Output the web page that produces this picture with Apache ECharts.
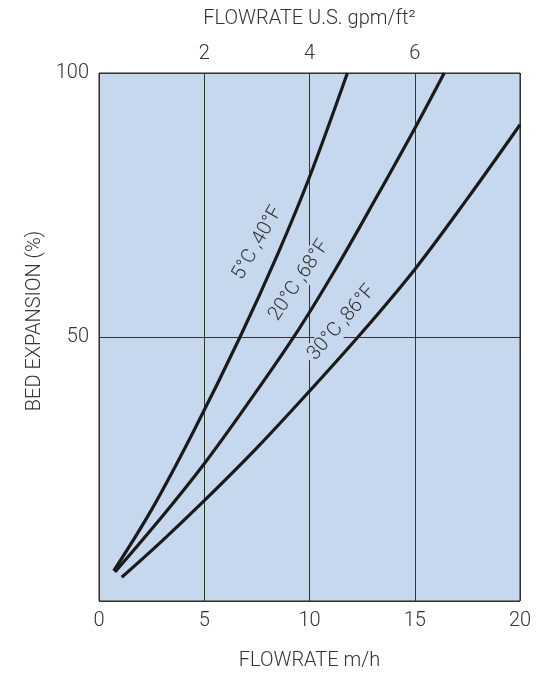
<!DOCTYPE html>
<html>
<head>
<meta charset="utf-8">
<script src="https://cdn.jsdelivr.net/npm/echarts@6/dist/echarts.min.js"></script>
<style>html,body{margin:0;padding:0;background:#fff}#c{width:550px;height:676px}</style>
</head>
<body>
<div id="c"></div>
<script>
// Data
var flowrate5 = [0.7, 2.5, 4.5, 6.7, 8.5, 10, 11.8];
var expansion5 = [5.7, 17.3, 32.2, 50, 65.8, 80.3, 100];
var flowrate20 = [0.76, 3, 5, 7, 9.3, 11.2, 13.2, 15, 16.4];
var expansion20 = [5.5, 16, 26, 37, 50.3, 62.6, 76.6, 89.5, 100];
var flowrate30 = [1.08, 3, 5, 7.5, 10, 12.5, 15, 17.5, 20];
var expansion30 = [4.5, 11.4, 19, 29, 39.75, 50.9, 62.8, 76.2, 90.2];
var curveNames = ['5°C ,40°F', '20°C ,68°F', '30°C ,86°F'];
// label anchor positions (data coords) and angles (deg)
var labelX = [7.53, 9.51, 11.53];
var labelY = [67.8, 60.7, 52.7];
var labelAngle = [60.4, 56, 49.2];

function pairs(xs, ys){ return xs.map(function(x,i){return [x, ys[i]];}); }

var FONT = 'Roboto, "Liberation Sans", sans-serif';
var TXT = '#333';
var BG = '#c5d8ee';
var FS = 20;

var chart = echarts.init(document.getElementById('c'), null, {renderer:'canvas'});
var lineStyle = {color:'#1a1a1a', width:3.2};
var option = {
  animation:false,
  grid:{left:99, right:30, top:73, bottom:74, show:true, backgroundColor:BG, borderColor:'#222', borderWidth:1},
  xAxis:[{
    type:'value', min:0, max:20, interval:5, position:'bottom',
    name:'FLOWRATE m/h', nameLocation:'middle', nameGap:50,
    nameTextStyle:{fontFamily:FONT, fontSize:FS, fontWeight:300, color:TXT},
    axisLine:{show:false}, axisTick:{show:false},
    axisLabel:{fontFamily:FONT, fontSize:FS, fontWeight:300, color:TXT, margin:10},
    splitLine:{show:true, lineStyle:{color:'#333', width:1}}
  },{
    type:'value', min:0, max:8, interval:2, position:'top',
    name:'FLOWRATE U.S. gpm/ft²', nameLocation:'middle', nameGap:44,
    nameTextStyle:{fontFamily:FONT, fontSize:FS, fontWeight:300, color:TXT},
    axisLine:{show:false}, axisTick:{show:false},
    axisLabel:{fontFamily:FONT, fontSize:FS, fontWeight:300, color:TXT, margin:9,
      formatter:function(v){return (v===0||v===8)?'':String(v);}},
    splitLine:{show:false}
  }],
  yAxis:{
    type:'value', min:0, max:100, interval:50,
    name:'BED EXPANSION (%)', nameLocation:'middle', nameGap:46, nameRotate:90,
    nameTextStyle:{fontFamily:FONT, fontSize:FS, fontWeight:300, color:TXT, padding:[0,0,0,32]},
    axisLine:{show:false}, axisTick:{show:false},
    axisLabel:{fontFamily:FONT, fontSize:FS, fontWeight:300, color:TXT, margin:10,
      formatter:function(v){return v===0?'':String(v);}},
    splitLine:{show:true, lineStyle:{color:'#333', width:1}}
  },
  series:[
    {type:'line', name:curveNames[0], data:pairs(flowrate5, expansion5), smooth:0.35, showSymbol:false, lineStyle:lineStyle, z:3},
    {type:'line', name:curveNames[1], data:pairs(flowrate20, expansion20), smooth:0.35, showSymbol:false, lineStyle:lineStyle, z:3},
    {type:'line', name:curveNames[2], data:pairs(flowrate30, expansion30), smooth:0.35, showSymbol:false, lineStyle:lineStyle, z:3}
  ]
};
chart.setOption(option);

var g = curveNames.map(function(n, i){
  var p = chart.convertToPixel({xAxisIndex:0, yAxisIndex:0}, [labelX[i], labelY[i]]);
  return {
    type:'text', x:p[0], y:p[1], rotation:labelAngle[i]*Math.PI/180, z:10,
    style:{text:n, fontFamily:FONT, fontSize:FS, fontWeight:300, fill:TXT,
      align:'center', verticalAlign:'middle', backgroundColor:BG, padding:[1,3]}
  };
});
chart.setOption({graphic:g});
</script>
</body>
</html>
